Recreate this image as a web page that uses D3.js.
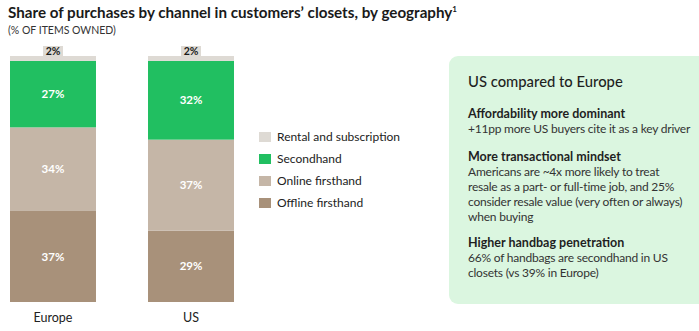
<!DOCTYPE html>
<html>
<head>
<meta charset="utf-8">
<script src="https://cdn.jsdelivr.net/npm/d3@7"></script>
<style>
  html, body { margin: 0; padding: 0; background: #fff; }
  svg { display: block; font-family: Lato, "Noto Sans", sans-serif; }
</style>
</head>
<body>
<svg id="chart" width="699" height="331"></svg>
<script>
// Geographies and channel shares (% of items owned)
const geographies = ["Europe", "US"];
const channels = ["Offline firsthand", "Online firsthand", "Secondhand", "Rental and subscription"];
const offlineFirsthand = [37, 29];
const onlineFirsthand = [34, 37];
const secondhand = [27, 32];
const rentalSubscription = [2, 2];
const legendOrder = ["Rental and subscription", "Secondhand", "Online firsthand", "Offline firsthand"];
const channelColors = ["#a8917a", "#c5b6a7", "#21bf61", "#dedad4"];

const titleText = "Share of purchases by channel in customers\u2019 closets, by geography";
const subtitleText = "(% OF ITEMS OWNED)";
const panelHeading = "US compared to Europe";
const panelBlocks = [
  { head: "Affordability more dominant",
    lines: ["+11pp more US buyers cite it as a key driver"] },
  { head: "More transactional mindset",
    lines: ["Americans are ~4x more likely to treat",
            "resale as a part- or full-time job, and 25%",
            "consider resale value (very often or always)",
            "when buying"] },
  { head: "Higher handbag penetration",
    lines: ["66% of handbags are secondhand in US",
            "closets (vs 39% in Europe)"] }
];

const rows = geographies.map((g, i) => ({
  geography: g,
  "Offline firsthand": offlineFirsthand[i],
  "Online firsthand": onlineFirsthand[i],
  "Secondhand": secondhand[i],
  "Rental and subscription": rentalSubscription[i]
}));

const svg = d3.select("#chart");
const color = d3.scaleOrdinal().domain(channels).range(channelColors);

// Title
svg.append("text")
  .attr("x", 8).attr("y", 18)
  .attr("font-size", 15.2).attr("font-weight", 700).attr("fill", "#1a1a1a")
  .text(titleText)
  .append("tspan").attr("font-size", 8).attr("dy", -6).text("1");
svg.append("text")
  .attr("x", 8).attr("y", 34)
  .attr("font-size", 10.5).attr("fill", "#333")
  .text(subtitleText);

// Scales
const x = d3.scaleBand().domain(geographies).range([10, 234]).paddingInner(0.377).paddingOuter(0);
const y = d3.scaleLinear().domain([0, 100]).range([302, 56]);

const stacked = d3.stack().keys(channels)(rows);

const layers = svg.append("g").selectAll("g")
  .data(stacked).join("g")
  .attr("fill", d => color(d.key));

layers.selectAll("rect")
  .data(d => d.map(v => Object.assign(v, { key: d.key })))
  .join("rect")
  .attr("x", d => x(d.data.geography))
  .attr("width", x.bandwidth())
  .attr("y", d => y(d[1]))
  .attr("height", d => y(d[0]) - y(d[1]));

// Value labels inside the larger segments
stacked.filter(s => s.key !== "Rental and subscription").forEach(s => {
  svg.append("g").selectAll("text")
    .data(s).join("text")
    .attr("x", d => x(d.data.geography) + x.bandwidth() / 2)
    .attr("y", d => (y(d[0]) + y(d[1])) / 2)
    .attr("dy", "0.35em")
    .attr("text-anchor", "middle")
    .attr("font-size", 11.5).attr("font-weight", 700).attr("fill", "#fff")
    .text(d => (d[1] - d[0]) + "%");
});

// Rental share: label in a tab sitting on top of the bar
const rentalLayer = stacked.find(s => s.key === "Rental and subscription");
const tabs = svg.append("g").selectAll("g").data(rentalLayer).join("g")
  .attr("transform", d => `translate(${x(d.data.geography) + x.bandwidth() / 2},${y(d[1]) - 5})`);
tabs.append("rect")
  .attr("x", -10).attr("y", -5).attr("width", 20).attr("height", 10)
  .attr("fill", color("Rental and subscription"));
tabs.append("text")
  .attr("text-anchor", "middle").attr("dy", "0.36em")
  .attr("font-size", 10.5).attr("font-weight", 700).attr("fill", "#1a1a1a")
  .text(d => (d[1] - d[0]) + "%");

// Category axis
const xAxis = svg.append("g").attr("transform", "translate(0,302)")
  .call(d3.axisBottom(x).tickSize(0).tickPadding(11));
xAxis.select(".domain").remove();
xAxis.selectAll("text").attr("font-size", 12.5).attr("fill", "#222")
  .attr("font-family", "Lato, sans-serif");

// Legend
const legend = svg.append("g").selectAll("g").data(legendOrder).join("g")
  .attr("transform", (d, i) => `translate(259,${137 + i * 22})`);
legend.append("rect")
  .attr("x", 0).attr("y", -5).attr("width", 12).attr("height", 10)
  .attr("fill", d => color(d));
legend.append("text")
  .attr("x", 18).attr("dy", "0.35em")
  .attr("font-size", 12).attr("fill", "#222")
  .text(d => d);

// Comparison panel, rounded on the left and running off the right edge
const panelShape = d3.path();
{
  const x0 = 449, y0 = 56, x1 = 705, y1 = 304, r = 9;
  panelShape.moveTo(x0 + r, y0);
  panelShape.lineTo(x1, y0);
  panelShape.lineTo(x1, y1);
  panelShape.lineTo(x0 + r, y1);
  panelShape.arcTo(x0, y1, x0, y1 - r, r);
  panelShape.lineTo(x0, y0 + r);
  panelShape.arcTo(x0, y0, x0 + r, y0, r);
  panelShape.closePath();
}
const panel = svg.append("g");
panel.append("path").attr("d", panelShape.toString()).attr("fill", "#dbf6e0");

panel.append("text")
  .attr("x", 468).attr("y", 87)
  .attr("font-size", 14.8).attr("font-weight", 500).attr("fill", "#1f1f1f")
  .text(panelHeading);

const blockTops = [118, 161, 247];
panelBlocks.forEach((b, bi) => {
  panel.append("text")
    .attr("x", 468).attr("y", blockTops[bi])
    .attr("font-size", 12.5).attr("font-weight", 700).attr("fill", "#1f1f1f")
    .text(b.head);
  b.lines.forEach((line, li) => {
    panel.append("text")
      .attr("x", 468).attr("y", blockTops[bi] + 15 * (li + 1))
      .attr("font-size", 12).attr("letter-spacing", -0.22).attr("fill", "#333")
      .text(line);
  });
});
</script>
</body>
</html>
